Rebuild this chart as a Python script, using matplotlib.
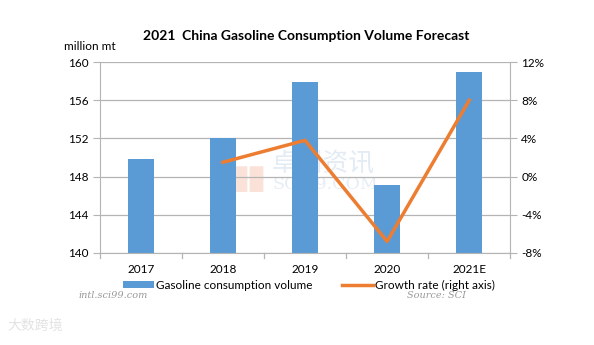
import matplotlib
matplotlib.use("Agg")
import matplotlib.pyplot as plt
from matplotlib.patches import Patch
from matplotlib.lines import Line2D

years = ["2017", "2018", "2019", "2020", "2021E"]
volume = [149.8, 152.0, 157.9, 147.1, 159.0]  # million mt
growth_years = ["2018", "2019", "2020", "2021E"]
growth = [1.5, 3.8, -6.8, 8.0]  # %

blue = "#5b9bd5"
orange = "#ed7d31"
grid_c = "#b4b4b4"

plt.rcParams["font.family"] = ["Lato", "DejaVu Sans"]

fig = plt.figure(figsize=(5.94, 3.45), dpi=100)
ax = fig.add_axes([0.168, 0.267, 0.691, 0.553])

x = list(range(len(years)))
ax.bar(x, volume, width=0.32, color=blue, zorder=2)
ax.set_ylim(140, 160)
ax.set_yticks([140, 144, 148, 152, 156, 160])
ax.set_xlim(-0.5, len(years) - 0.5)
ax.set_xticks(x)
ax.set_xticklabels(years)
ax.yaxis.grid(True, color=grid_c, linewidth=0.9, zorder=0)
for s in ["top", "right"]:
    ax.spines[s].set_visible(False)
ax.spines["left"].set_color(grid_c)
ax.spines["bottom"].set_color(grid_c)
ax.tick_params(axis="y", length=5, color=grid_c, labelsize=8.5, pad=3)
ax.tick_params(axis="x", length=0, labelsize=8.5, pad=8)
# category separators on the x axis
for b in [i - 0.5 for i in range(len(years) + 1)]:
    ax.plot([b, b], [0, -0.025], transform=ax.get_xaxis_transform(),
            color=grid_c, linewidth=0.9, clip_on=False)

# watermark, behind the bars
ax.text(0.458, 0.503, "卓创资讯", transform=fig.transFigure,
        family=["Noto Sans CJK SC"], fontsize=18.5, color="#e3ebf4", zorder=1)
ax.text(0.458, 0.452, "SCI99.COM", transform=fig.transFigure,
        family=["DejaVu Serif"], fontsize=12.5, color="#e6edf4", zorder=1)
ax.text(0.39, 0.448, "■■\n■■", transform=fig.transFigure, fontsize=13,
        color="#fbe2d8", linespacing=0.75, zorder=1)

ax2 = ax.twinx()
gx = [years.index(y) for y in growth_years]
ax2.plot(gx, growth, color=orange, linewidth=2.5, zorder=3)
ax2.set_ylim(-8, 12)
ax2.set_yticks([-8, -4, 0, 4, 8, 12])
ax2.set_yticklabels([f"{v}%" for v in [-8, -4, 0, 4, 8, 12]])
for s in ["top", "left", "bottom"]:
    ax2.spines[s].set_visible(False)
ax2.spines["right"].set_color(grid_c)
ax2.tick_params(axis="y", length=5, color=grid_c, labelsize=8.5, pad=3)

fig.text(0.515, 0.885, "2021  China Gasoline Consumption Volume Forecast",
         ha="center", fontsize=10, fontweight="bold")
fig.text(0.107, 0.855, "million mt", fontsize=8.5)

handles = [Patch(facecolor=blue), Line2D([0], [0], color=orange, linewidth=2.5)]
fig.legend(handles, ["Gasoline consumption volume", "Growth rate (right axis)"],
           loc="center", bbox_to_anchor=(0.52, 0.173), ncol=2, frameon=False,
           fontsize=8.5, handlelength=2.6, handleheight=0.6, columnspacing=2.5,
           handletextpad=0.2)

fig.text(0.132, 0.137, "intl.sci99.com", family=["DejaVu Serif"], style="italic",
         fontsize=7, color="#999999")
fig.text(0.785, 0.137, "Source: SCI", family=["DejaVu Serif"], style="italic",
         fontsize=7, color="#999999", ha="right")
fig.text(0.012, 0.045, "大数跨境", family=["Noto Sans CJK SC"], fontsize=10,
         color="#e3e3e3")

fig.savefig("out.png", dpi=100)
